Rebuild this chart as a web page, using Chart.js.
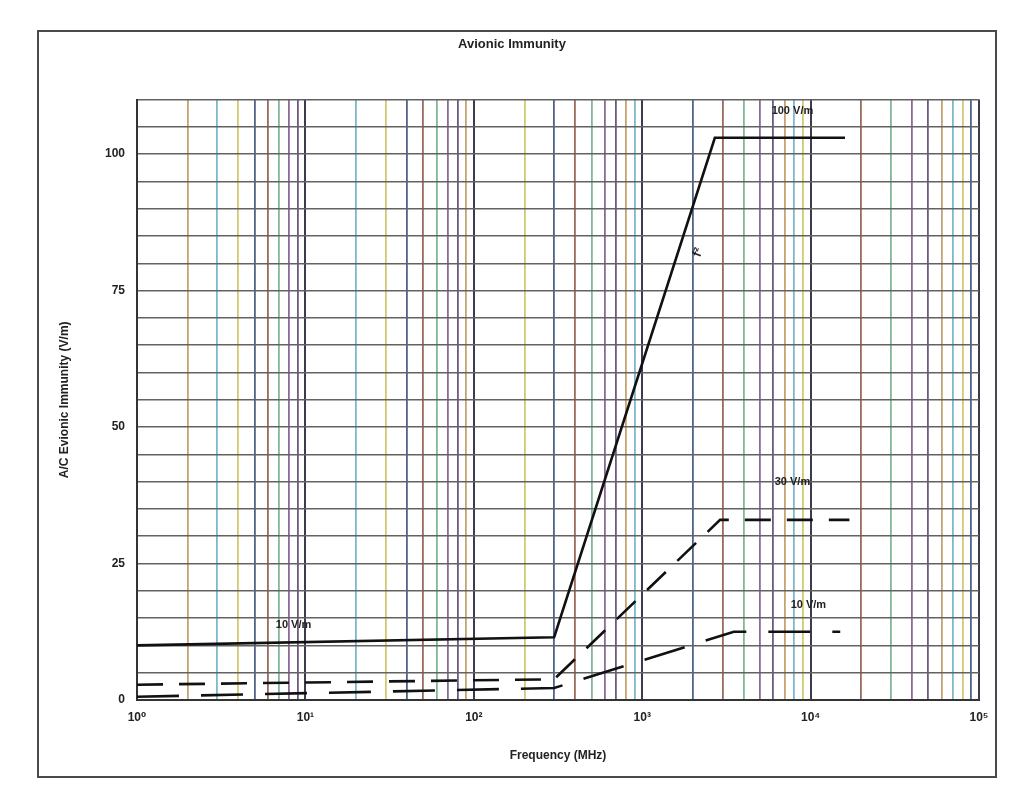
<!DOCTYPE html>
<html>
<head>
<meta charset="utf-8">
<script src="https://cdn.jsdelivr.net/npm/chart.js@4/dist/chart.umd.min.js"></script>
<style>
  html, body { margin: 0; padding: 0; background: #fff; }
  #wrap { position: relative; width: 1017px; height: 787px; }
  #frame {
    position: absolute; left: 37px; top: 30px; width: 960px; height: 748px;
    border: 2px solid #4a4a4a; box-sizing: border-box; pointer-events: none;
  }
</style>
</head>
<body>
<div id="wrap">
  <canvas id="chart" width="1017" height="787"></canvas>
  <div id="frame"></div>
</div>
<script>
// data
const freqSolid = [1, 300, 2700, 16000];
const fieldSolid = [10, 11.5, 103, 103];

const freq30 = [1, 300, 2900, 17000];
const field30 = [2.8, 3.8, 33, 33];

const freq10 = [1, 300, 3500, 15000];
const field10 = [0.6, 2.2, 12.5, 12.5];

const decades = [1, 10, 100, 1000, 10000, 100000];
const supers = ["⁰", "¹", "²", "³", "⁴", "⁵"];
const yTickLabels = [0, 25, 50, 75, 100];

// text annotations placed in data units
const notes = [
  { text: "100 V/m", x: 7800, y: 108 },
  { text: "30 V/m", x: 7800, y: 40 },
  { text: "10 V/m", x: 9700, y: 17.4 },
  { text: "10 V/m", x: 8.5, y: 13.8 },
];

const FONT = "'Liberation Sans', 'DejaVu Sans', Arial, sans-serif";

// every 1..9 x 10^k tick for the log grid
const xTickValues = [];
decades.forEach((d, i) => {
  if (i === decades.length - 1) { xTickValues.push(d); return; }
  for (let m = 1; m <= 9; m++) xTickValues.push(m * d);
});

const gridPalette = ["#6c5a80", "#c4a470", "#7db8cc", "#d4c870", "#4f6488", "#9c6a58", "#82b898", "#8e6a9a"];

const labelPlugin = {
  id: "notes",
  afterDatasetsDraw(chart) {
    const { ctx, scales } = chart;
    ctx.save();
    ctx.font = "bold 11px " + FONT;
    ctx.fillStyle = "#222";
    ctx.textAlign = "center";
    ctx.textBaseline = "middle";
    notes.forEach((n) => {
      ctx.fillText(n.text, scales.x.getPixelForValue(n.x), scales.y.getPixelForValue(n.y));
    });
    // slope mark on the rising line
    ctx.translate(scales.x.getPixelForValue(2150), scales.y.getPixelForValue(82));
    ctx.rotate(-1.2);
    ctx.font = "bold 13px " + FONT;
    ctx.fillText("f²", 0, 0);
    ctx.restore();
  },
};

const pts = (xs, ys) => xs.map((x, i) => ({ x: x, y: ys[i] }));

new Chart(document.getElementById("chart"), {
  type: "line",
  data: {
    datasets: [
      {
        label: "Solid",
        data: pts(freqSolid, fieldSolid),
        borderColor: "#111",
        borderWidth: 2.6,
        pointRadius: 0,
        tension: 0,
      },
      {
        label: "30 V/m",
        data: pts(freq30, field30),
        borderColor: "#111",
        borderWidth: 2.6,
        borderDash: [26, 16],
        pointRadius: 0,
        tension: 0,
      },
      {
        label: "10 V/m",
        data: pts(freq10, field10),
        borderColor: "#111",
        borderWidth: 2.6,
        borderDash: [42, 22],
        pointRadius: 0,
        tension: 0,
      },
    ],
  },
  options: {
    responsive: false,
    animation: false,
    layout: { padding: { left: 45, right: 38, top: 0, bottom: 20 } },
    plugins: {
      legend: { display: false },
      tooltip: { enabled: false },
      title: {
        display: true,
        text: "Avionic Immunity",
        color: "#222",
        font: { family: FONT, size: 13, weight: "bold" },
        padding: { top: 37, bottom: 47 },
      },
    },
    scales: {
      x: {
        type: "logarithmic",
        min: 1,
        max: 100000,
        afterBuildTicks: (scale) => {
          scale.ticks = xTickValues.map((v) => ({ value: v }));
        },
        afterFit: (scale) => { scale.height = 67; },
        ticks: {
          autoSkip: false,
          maxRotation: 0,
          padding: 10,
          color: "#222",
          font: { family: FONT, size: 12, weight: "bold" },
          callback: (value) => {
            const i = decades.indexOf(value);
            return i >= 0 ? "10" + supers[i] : "";
          },
        },
        grid: {
          color: (ctx) => {
            const v = ctx.tick ? ctx.tick.value : 0;
            if (decades.includes(v)) return "#3c3a4c";
            return gridPalette[ctx.index % gridPalette.length];
          },
          lineWidth: (ctx) => (ctx.tick && decades.includes(ctx.tick.value) ? 2 : 1.8),
          drawTicks: false,
        },
        border: { color: "#333", width: 2 },
        title: {
          display: true,
          text: "Frequency (MHz)",
          color: "#222",
          font: { family: FONT, size: 12, weight: "bold" },
          padding: { top: 6 },
        },
      },
      y: {
        type: "linear",
        min: 0,
        max: 110,
        afterFit: (scale) => { scale.width = 92; },
        ticks: {
          stepSize: 5,
          padding: 12,
          color: "#222",
          font: { family: FONT, size: 12, weight: "bold" },
          callback: (value) => (yTickLabels.includes(value) ? value : ""),
        },
        grid: {
          color: "#626262",
          lineWidth: 1.6,
          drawTicks: false,
        },
        border: { color: "#333", width: 2 },
        title: {
          display: true,
          text: "A/C Evionic Immunity (V/m)",
          color: "#222",
          font: { family: FONT, size: 12, weight: "bold" },
          padding: { top: 12, bottom: 0 },
        },
      },
    },
  },
  plugins: [labelPlugin],
});
</script>
</body>
</html>
